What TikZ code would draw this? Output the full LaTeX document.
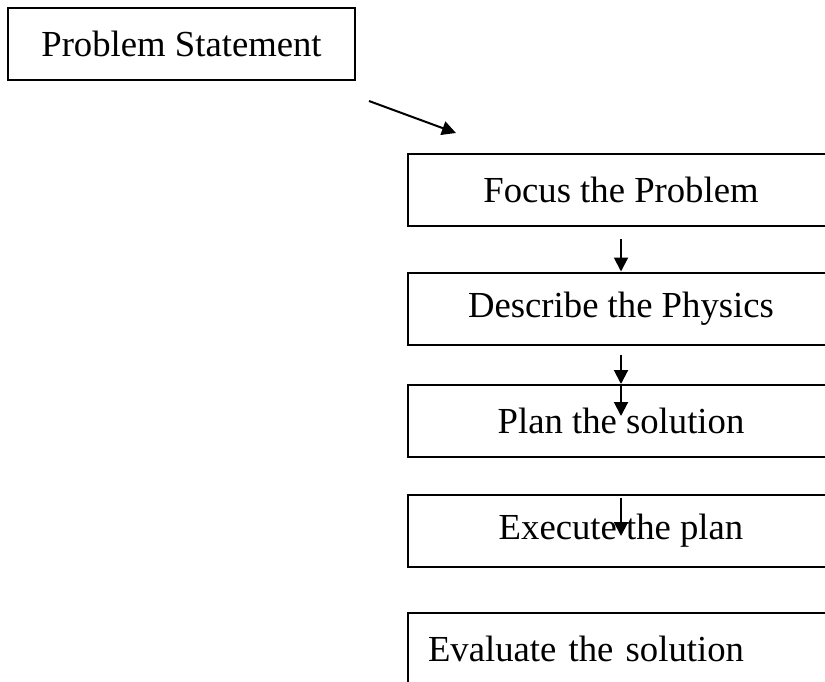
\documentclass[tikz,border=0pt]{standalone}
\usepackage{fontspec}
\setmainfont{Liberation Serif}
\usetikzlibrary{arrows.meta}
\begin{document}
\begin{tikzpicture}[x=1pt,y=-1pt,
  stepbox/.style={draw,line width=2pt,inner sep=0pt,minimum height=72pt,minimum width=426pt,
    font=\fontsize{36.7}{44}\selectfont},
  arr/.style={line width=2pt,-{Triangle[width=14pt,length=14pt]}}]
\useasboundingbox (0,0) rectangle (825,681);
\node[stepbox,minimum width=347pt] (prob) at (181.5,44) {Problem Statement};
\node[stepbox] (focus) at (621,190) {Focus the Problem};
\node[stepbox] (phys) at (621,308.5) {Describe the Physics};
\node[stepbox] (plan) at (621,421) {Plan the solution};
\node[stepbox] (exec) at (621,530.5) {Execute the plan};
\node[stepbox,text width=386pt,align=left,inner xsep=20pt] (eval) at (621,649) {Evaluate the solution};
\coordinate (inplan) at (621,416);
\coordinate (inexec) at (621,536);
\draw[arr] ([shift={(13,20)}]prob.south east) -- ([shift={(49,-20)}]focus.north west);
\draw[arr,shorten <=12pt] (focus.south) -- (phys.north);
\draw[arr,shorten <=9pt] (phys.south) -- (plan.north);
\draw[arr] (plan.north) -- (inplan);
\draw[arr,shorten <=4pt] (exec.north) -- (inexec);
\end{tikzpicture}
\end{document}
